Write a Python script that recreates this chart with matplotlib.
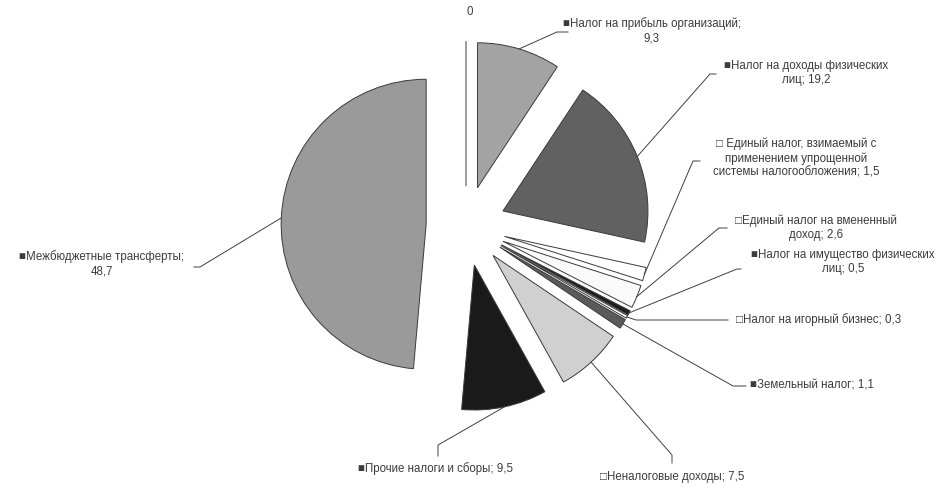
import numpy as np
import matplotlib
matplotlib.use("Agg")
import matplotlib.pyplot as plt

# ---- data ----
categories = [
    "0",
    "Налог на прибыль организаций",
    "Налог на доходы физических лиц",
    "Единый налог, взимаемый с применением упрощенной системы налогообложения",
    "Единый налог на вмененный доход",
    "Налог на имущество физических лиц",
    "Налог на игорный бизнес",
    "Земельный налог",
    "Неналоговые доходы",
    "Прочие налоги и сборы",
    "Межбюджетные трансферты",
]
values = [0, 9.3, 19.2, 1.5, 2.6, 0.5, 0.3, 1.1, 7.5, 9.5, 48.7]
label_texts = [
    "0",
    "■Налог на прибыль организаций;\n9,3",
    "■Налог на доходы физических\nлиц; 19,2",
    "□ Единый налог, взимаемый с\nприменением упрощенной\nсистемы налогообложения; 1,5",
    "□Единый налог на вмененный\nдоход; 2,6",
    "■Налог на имущество физических\nлиц; 0,5",
    "□Налог на игорный бизнес; 0,3",
    "■Земельный налог; 1,1",
    "□Неналоговые доходы; 7,5",
    "■Прочие налоги и сборы; 9,5",
    "■Межбюджетные трансферты;\n48,7",
]
colors = ["#ffffff", "#a3a3a3", "#616161", "#ffffff", "#fafafa", "#1e1e1e",
          "#ffffff", "#5a5a5a", "#d0d0d0", "#1a1a1a", "#9a9a9a"]

# ---- layout (pixel coords, y from top) ----
W, H = 944, 487
def P(x, y):
    return (x, H - y)

center_px = (466, 226)
radius = 145
explode_frac = 0.275
explode = [explode_frac * radius] * len(values)

# label centres and leader (elbow, end) points
label_pos = [(470, 12), (652, 31), (806, 73), (796, 158), (816, 228), (843, 262),
             (819, 320), (812, 386), (672, 477), (436, 469), (102, 264)]
leaders = [
    None,
    [(557, 32), (568, 32)],
    [(710, 74), (716, 74)],
    [(693, 161), (700, 161)],
    [(719, 228), (727, 228)],
    [(737, 269), (741, 269)],
    [(636, 320), (728, 320)],
    [(733, 386), (746, 386)],
    [(672, 455), (672, 463)],
    [(438, 445), (438, 456)],
    [(200, 267), (194, 267)],
]

fig = plt.figure(figsize=(W / 100, H / 100), dpi=100)
ax = fig.add_axes([0, 0, 1, 1])
wedges, _ = ax.pie(values, colors=colors, explode=explode, startangle=90,
                   counterclock=False, radius=radius, center=P(*center_px),
                   wedgeprops=dict(edgecolor="#3a3a3a", linewidth=0.7),
                   normalize=True)
ax.set_xlim(0, W)
ax.set_ylim(0, H)
ax.set_aspect("equal")
ax.axis("off")

fs = 8.3
tc = "#3c3c3c"
for i, w in enumerate(wedges):
    lx, ly = label_pos[i]
    ax.text(lx, H - ly, label_texts[i], ha="center", va="center",
            fontsize=fs, color=tc, family=["Liberation Sans", "DejaVu Sans"],
            linespacing=1.25)
    if leaders[i] is None:
        continue
    mid = np.deg2rad((w.theta1 + w.theta2) / 2)
    cx, cy = w.center
    start = (cx + w.r * np.cos(mid), cy + w.r * np.sin(mid))
    xs = [start[0]] + [p[0] for p in leaders[i]]
    ys = [start[1]] + [H - p[1] for p in leaders[i]]
    ax.plot(xs, ys, color="#404040", lw=0.7)

fig.savefig("out.png", dpi=100)
